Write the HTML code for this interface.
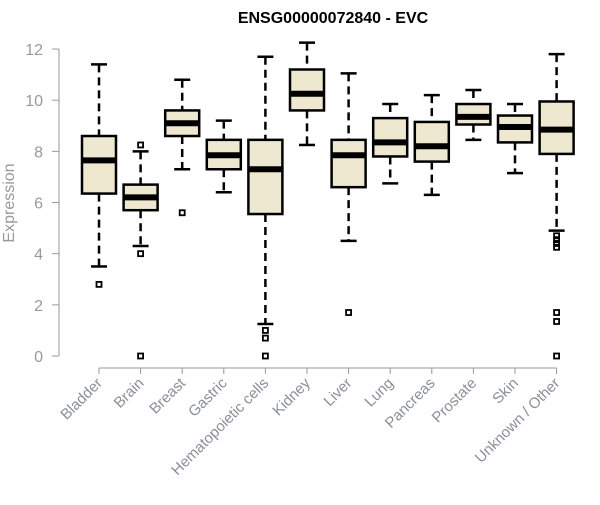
<!DOCTYPE html>
<html><head><meta charset="utf-8"><style>
body{margin:0;background:#fff;width:600px;height:500px;overflow:hidden}
text{font-family:"Liberation Sans",sans-serif}
</style></head><body>
<svg id="c" width="600" height="500">
<text x="333" y="23" text-anchor="middle" font-weight="bold" font-size="16">ENSG00000072840 - EVC</text>
<text transform="translate(14,203) rotate(-90)" text-anchor="middle" font-size="16" fill="#999">Expression</text>
<g id="ax"></g><g id="marks"></g>
</svg>
<script>
const categories=["Bladder","Brain","Breast","Gastric","Hematopoietic cells","Kidney","Liver","Lung","Pancreas","Prostate","Skin","Unknown / Other"];
const whiskerLow=[3.5,4.3,7.3,6.4,1.25,8.25,4.5,6.75,6.3,8.45,7.15,4.9];
const q1=[6.35,5.7,8.6,7.3,5.55,9.6,6.6,7.8,7.6,9.05,8.35,7.9];
const medians=[7.65,6.2,9.1,7.85,7.3,10.25,7.85,8.35,8.2,9.35,8.95,8.85];
const q3=[8.6,6.7,9.6,8.45,8.45,11.2,8.45,9.3,9.15,9.85,9.4,9.95];
const whiskerHigh=[11.4,8.0,10.8,9.2,11.7,12.25,11.05,9.85,10.2,10.4,9.85,11.8];
const outliers=[[2.8],[8.25,4.0,0],[5.6],[],[1.0,0.7,0],[],[1.7],[],[],[],[],[4.7,4.55,4.4,4.25,1.7,1.35,0]];
const yTicks=[0,2,4,6,8,10,12];
const NS="http://www.w3.org/2000/svg";
const y=v=>356-v*25.58;
const x=i=>99+i*41.6;
function mk(p,t,a){const e=document.createElementNS(NS,t);for(const k in a)e.setAttribute(k,a[k]);p.appendChild(e);return e;}
const ax=document.getElementById('ax'),m=document.getElementById('marks');
let l=mk(ax,'line',{x1:59,x2:59,y1:y(12),y2:y(0),stroke:'#999'});


yTicks.forEach(t=>{
 const tk=mk(ax,'line',{x1:52,x2:59,y1:y(t),y2:y(t),stroke:'#999'});
 
 
 const tx=mk(ax,'text',{x:43,y:y(t)+6,'text-anchor':'end','font-size':16,fill:'#999'});
 tx.textContent=t;
 
 
});
l=mk(ax,'line',{x1:x(0),x2:x(11),y1:368,y2:368,stroke:'#999'});


categories.forEach((c,i)=>{
 const cx=x(i);
 const tk=mk(ax,'line',{x1:cx,x2:cx,y1:368,y2:374,stroke:'#999'});
 
 
 const tx=mk(ax,'text',{transform:`translate(${cx+4},${384}) rotate(-45)`,'text-anchor':'end','font-size':15,fill:'#8a8f9a'});
 tx.textContent=c;
 
 
 const g=mk(m,'g',{});
 
 
 mk(g,'line',{x1:cx,x2:cx,y1:y(whiskerHigh[i]),y2:y(q3[i]),stroke:'#000','stroke-width':2.5,'stroke-dasharray':'8,5'});
 mk(g,'line',{x1:cx,x2:cx,y1:y(q1[i]),y2:y(whiskerLow[i]),stroke:'#000','stroke-width':2.5,'stroke-dasharray':'8,5'});
 mk(g,'line',{x1:cx-8,x2:cx+8,y1:y(whiskerHigh[i]),y2:y(whiskerHigh[i]),stroke:'#000','stroke-width':2.5});
 mk(g,'line',{x1:cx-8,x2:cx+8,y1:y(whiskerLow[i]),y2:y(whiskerLow[i]),stroke:'#000','stroke-width':2.5});
 mk(g,'rect',{x:cx-17,y:y(q3[i]),width:34,height:y(q1[i])-y(q3[i]),fill:'#eee8d0',stroke:'#000','stroke-width':2.5});
 mk(g,'line',{x1:cx-17,x2:cx+17,y1:y(medians[i]),y2:y(medians[i]),stroke:'#000','stroke-width':6});
 outliers[i].forEach(o=>{
  const r=mk(g,'rect',{x:cx-2.5,y:y(o)-2.5,width:5,height:5,fill:'none',stroke:'#000','stroke-width':1.8});
  
  
 });
});
</script>
</body></html>
